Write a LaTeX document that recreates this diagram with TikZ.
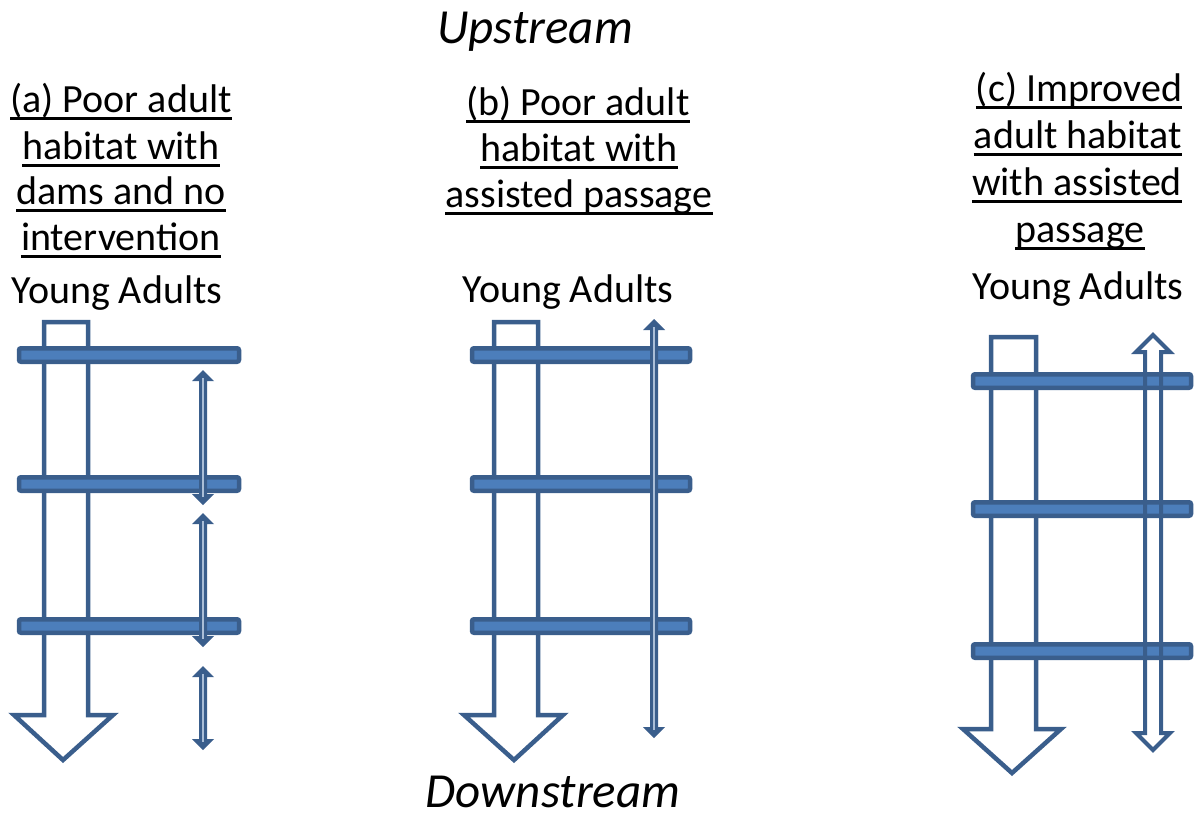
\documentclass[tikz,border=0pt]{standalone}
\usepackage{fontspec}
\setmainfont{Carlito}
\begin{document}
\begin{tikzpicture}[x=1pt,y=-1pt,
  bigarrow/.style={draw={rgb,255:red,58;green,94;blue,140},line width=4.5pt,line join=miter},
  dam/.style={draw={rgb,255:red,58;green,94;blue,140},fill={rgb,255:red,76;green,126;blue,187},line width=4.5pt,rounded corners=2pt},
  thinarrow/.style={fill={rgb,255:red,58;green,94;blue,140}},
  stripe/.style={draw={rgb,255:red,170;green,190;blue,215},line width=1.2pt},
  openarrow/.style={draw={rgb,255:red,58;green,94;blue,140},line width=4pt,line join=miter},
  title/.style={font=\fontsize{40}{46}\selectfont,inner sep=0pt,anchor=base,
    append after command={([yshift=-6pt]\tikzlastnode.base west) edge[draw=black,line width=3pt] ([yshift=-6pt]\tikzlastnode.base east)}},
  label/.style={font=\fontsize{40}{46}\selectfont,inner sep=0pt,anchor=base},
  dirlabel/.style={font=\fontsize{49}{56}\selectfont\itshape,inner sep=0pt,anchor=base}]
\useasboundingbox (0,0) rectangle (1195,817);

% texts
\node[dirlabel] (up) at (535,43) {Upstream};
\node[dirlabel] (down) at (553,807) {Downstream};

\node[title] (a1) at (121,112) {(a) Poor adult};
\node[title] (a2) at (121,159) {habitat with};
\node[title] (a3) at (121,204) {dams and no};
\node[title] (a4) at (121,250) {intervention};
\node[label] (ya) at (117,303) {Young Adults};

\node[title] (b1) at (578,115) {(b) Poor adult};
\node[title] (b2) at (579,161) {habitat with};
\node[title] (b3) at (579,207) {assisted passage};
\node[label] (yb) at (568,302) {Young Adults};

\node[title] (c1) at (1079,101) {(c) Improved};
\node[title] (c2) at (1078,148) {adult habitat};
\node[title] (c3) at (1077,195) {with assisted};
\node[title] (c4) at (1080,242) {passage};
\node[label] (yc) at (1078,299) {Young Adults};

% ---------- panel (a)
\draw[bigarrow] (44,322) -- (88,322) -- (88,715) -- (113,715) -- (63,760) -- (14,715) -- (44,715) -- cycle;
\foreach \y in {355,484,626} \draw[dam] (19,\y-6.75) rectangle (239,\y+6.75);
% small double arrows
\foreach \t/\b in {370/505, 513/647, 666/750}{
  \fill[thinarrow] (203,\t) -- (214,\t+11) -- (207,\t+11) -- (207,\b-11) -- (214,\b-11) -- (203,\b) -- (192,\b-11) -- (199,\b-11) -- (199,\t+11) -- (192,\t+11) -- cycle;
  \draw[stripe] (203,\t+8) -- (203,\b-8);
}

% ---------- panel (b)
\draw[bigarrow] (494,322) -- (538,322) -- (538,715) -- (563,715) -- (514,760) -- (464,715) -- (494,715) -- cycle;
\foreach \y in {355,484,626} \draw[dam] (472,\y-6.75) rectangle (690,\y+6.75);
\fill[thinarrow] (654,319) -- (665,330) -- (658,330) -- (658,727) -- (665,727) -- (654,738) -- (643,727) -- (650,727) -- (650,330) -- (643,330) -- cycle;
\draw[stripe] (654,327) -- (654,730);

% ---------- panel (c)
\draw[bigarrow] (991,337) -- (1036,337) -- (1036,729) -- (1061,729) -- (1012,773) -- (963,729) -- (991,729) -- cycle;
\foreach \y in {381,509,651} \draw[dam] (973,\y-6.75) rectangle (1191,\y+6.75);
\draw[openarrow] (1145,352) -- (1136,352) -- (1153,335) -- (1170,352) -- (1161,352) -- (1161,733) -- (1170,733) -- (1153,750) -- (1136,733) -- (1145,733) -- cycle;
\end{tikzpicture}
\end{document}
